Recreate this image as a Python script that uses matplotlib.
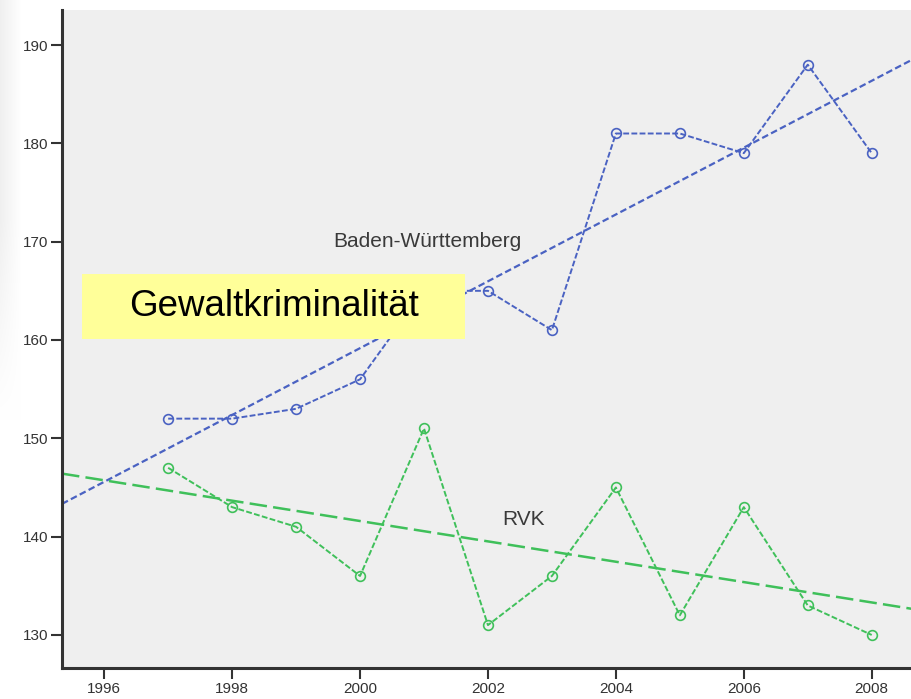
import numpy as np
import matplotlib
matplotlib.use("Agg")
import matplotlib.pyplot as plt
from matplotlib.patches import Rectangle

plt.rcParams['font.family'] = ['Liberation Sans', 'DejaVu Sans']

# ---- data ----
years = [1997, 1998, 1999, 2000, 2001, 2002, 2003, 2004, 2005, 2006, 2007, 2008]
bw_values = [152, 152, 153, 156, 165, 165, 161, 181, 181, 179, 188, 179]
rvk_values = [147, 143, 141, 136, 151, 131, 136, 145, 132, 143, 133, 130]
xticks = [1996, 1998, 2000, 2002, 2004, 2006, 2008]
yticks = [130, 140, 150, 160, 170, 180, 190]
label_bw = "Baden-Württemberg"
label_rvk = "RVK"
title_box = "Gewaltkriminalität"

W, H = 912, 699
fig = plt.figure(figsize=(W / 100, H / 100), dpi=100)
fig.patch.set_facecolor('white')

# faint grey gradient at the far left edge
grad = np.ones((H, 22, 3))
xs = np.linspace(0, 1, 22)
ys = np.clip((np.arange(H) - 220) / 200.0, 0, 1)
fade = (1 - xs)[None, :] * (1 - ys)[:, None]
grad *= (1 - 0.06 * fade)[:, :, None]
fig.figimage(grad, xo=0, yo=0, origin='upper', zorder=-5)

ax = fig.add_axes([62 / W, 1 - 668 / H, (W - 62) / W, (668 - 10) / H])
ax.set_facecolor('#efefef')

xlim = (1995.34, 2008.63)
ylim = (126.64, 193.56)
ax.set_xlim(*xlim)
ax.set_ylim(*ylim)

blue = '#4a62c2'
green = '#3fc05a'

yr = np.array(years, dtype=float)
bw = np.array(bw_values, dtype=float)
rv = np.array(rvk_values, dtype=float)

# regression lines
xx = np.array(xlim)
cb = np.polyfit(yr, bw, 1)
cr = np.polyfit(yr, rv, 1)
ax.plot(xx, np.polyval(cb, xx), color=blue, lw=1.6, dashes=(3, 1.5), zorder=2)
ax.plot(xx, np.polyval(cr, xx), color=green, lw=1.8, dashes=(7, 2.5), zorder=2)

# data lines
ax.plot(yr, bw, color=blue, lw=1.4, dashes=(3, 1.2), marker='o', ms=7,
        mfc='none', mec=blue, mew=1.2, zorder=3)
ax.plot(yr, rv, color=green, lw=1.4, dashes=(3, 1.2), marker='o', ms=7,
        mfc='none', mec=green, mew=1.2, zorder=3)

ax.text(2001.05, 169.97, label_bw, fontsize=15, color='#3a3a3a',
        ha='center', va='center', zorder=4)
ax.text(2002.56, 141.7, label_rvk, fontsize=15, color='#3a3a3a',
        ha='center', va='center', zorder=4)

ax.set_xticks(xticks)
ax.set_yticks(yticks)
ax.set_xticklabels([str(t) for t in xticks])
ax.set_yticklabels([str(t) for t in yticks])
ax.tick_params(axis='both', direction='out', length=8, width=1.5,
               labelsize=11, labelcolor='#333333', color='#333333', pad=2)
for s in ['top', 'right']:
    ax.spines[s].set_visible(False)
for s in ['left', 'bottom']:
    ax.spines[s].set_linewidth(2.2)
    ax.spines[s].set_color('#333333')

# yellow label box
rect = Rectangle((82 / W, 1 - 339 / H), 383 / W, 65 / H,
                 transform=fig.transFigure, facecolor='#ffff99',
                 edgecolor='none', zorder=10)
fig.patches.append(rect)
fig.text(274 / W, 1 - 306 / H, title_box, fontsize=26.5, color='black',
         ha='center', va='center', zorder=11)

fig.savefig('out.png', dpi=100)
